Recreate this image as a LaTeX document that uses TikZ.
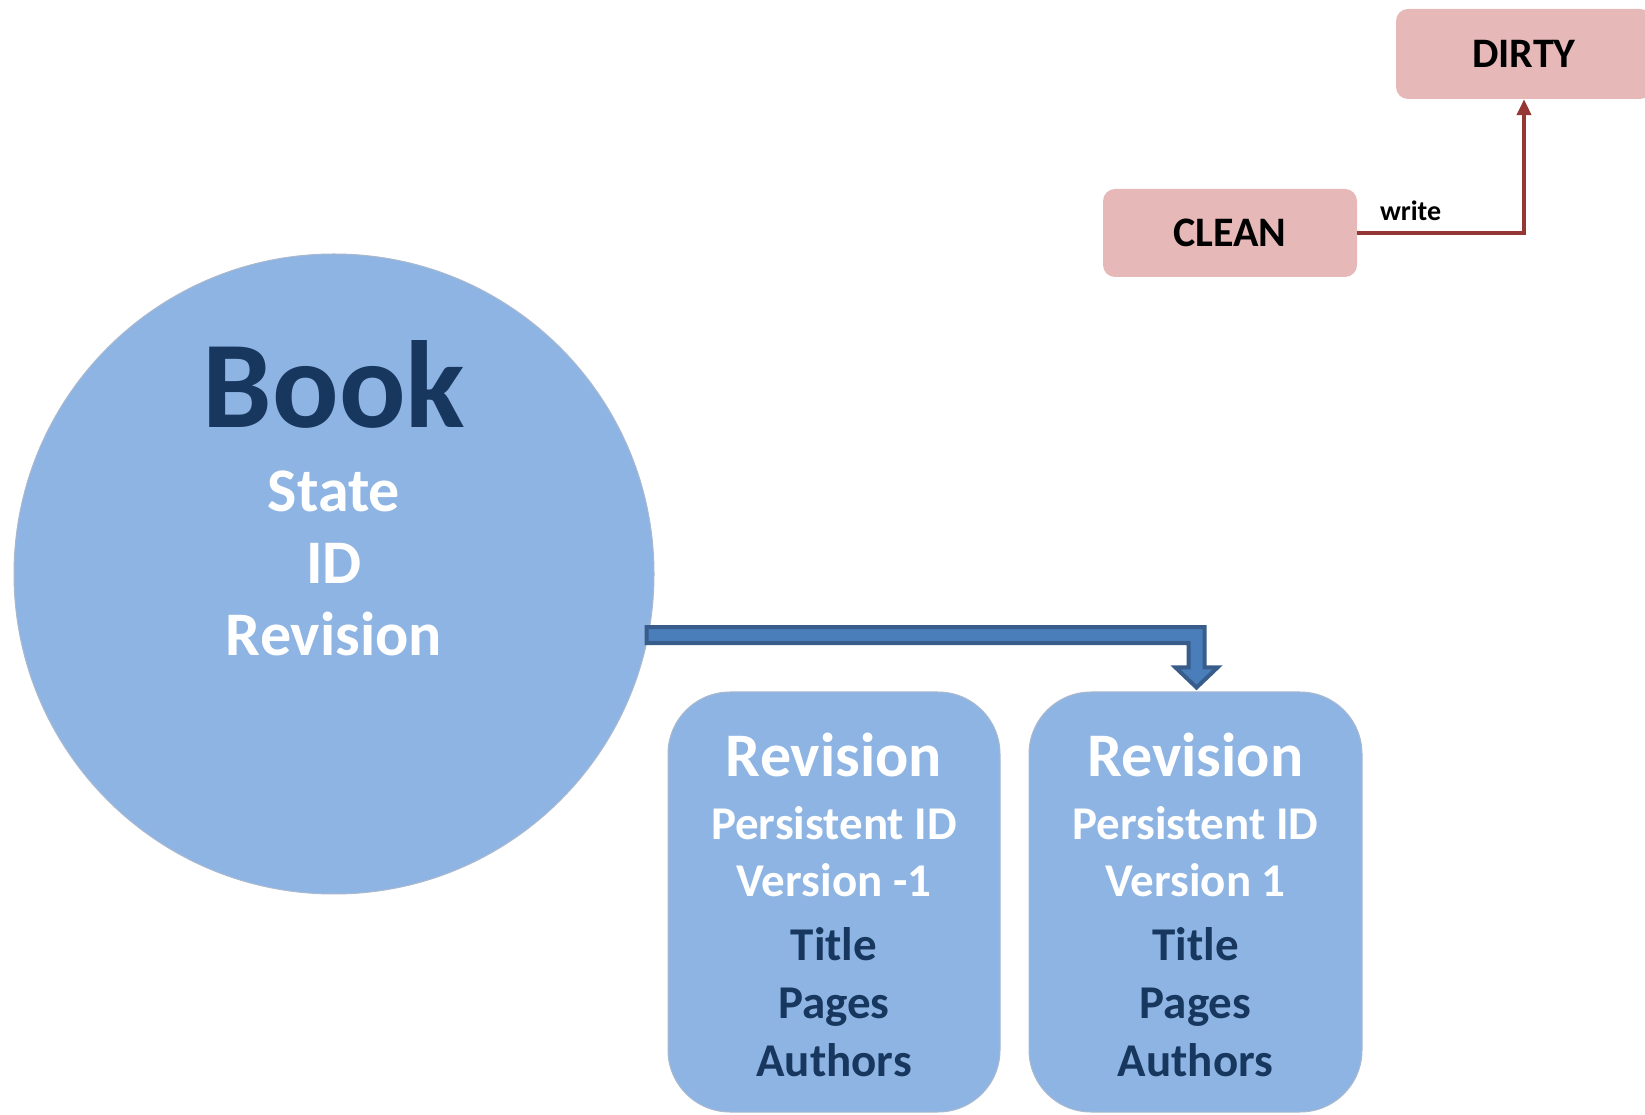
\documentclass[tikz,border=0pt]{standalone}
\usepackage{fontspec}
\setmainfont{Carlito}
\usepackage{xcolor}
\usepackage{tikz}
\usetikzlibrary{positioning}
\usetikzlibrary{arrows.meta}
\usetikzlibrary{calc}

\definecolor{boxblue}{HTML}{8EB4E3}
\definecolor{navy}{HTML}{17375E}
\definecolor{pinkfill}{HTML}{E6B9B8}
\definecolor{darkred}{HTML}{953735}
\definecolor{bandfill}{HTML}{4A7EBB}
\definecolor{bandline}{HTML}{385D8A}
\definecolor{rimgray}{HTML}{A9B9CF}

\begin{document}
\begin{tikzpicture}[x=1pt,y=1pt,
  statebox/.style={rectangle,rounded corners=12pt,fill=pinkfill,minimum width=254pt,minimum height=88pt,font=\fontsize{42}{50}\selectfont\bfseries},
  revbox/.style={rectangle,rounded corners=62pt,fill=boxblue,draw=rimgray,line width=1pt,minimum width=332pt,minimum height=420pt,align=center,font=\fontsize{47}{57}\selectfont\bfseries},
  bookcircle/.style={circle,fill=boxblue,draw=rimgray,line width=1pt,minimum size=640pt,inner sep=0pt},
  fatarrow/.style={fill=bandfill,draw=bandline,line width=4pt,line join=miter},
  statearrow/.style={-{Triangle[width=14pt,length=16pt]},draw=darkred,line width=4pt}]
\useasboundingbox (0,0) rectangle (1645,1114);

% states
\node[statebox] (clean) at (1230,881) {CLEAN};
\node[statebox,minimum width=256pt,minimum height=90pt] (dirty) at (1524,1060) {DIRTY};
\draw[statearrow] (clean) -| node[pos=0.16,above=7pt,font=\fontsize{28}{32}\selectfont\bfseries] {write} (dirty);

% book
\node[bookcircle] (book) at (334,540) {};
\node[align=center,text=white,font=\fontsize{62}{72}\selectfont\bfseries] (booktext) at ([yshift=76pt]book.center)
  {{\fontsize{124}{124}\selectfont\color{navy}Book}\\[12pt] State\\ ID\\ Revision};

% revisions
\node[revbox] (rev1) at (834,212) {\rule{0pt}{50pt}{\fontsize{62}{60}\selectfont\color{white}Revision}\\[6pt]
  \color{white}Persistent ID\\ \color{white}Version -1\\[7pt] \color{navy}Title\\[1pt] \color{navy}Pages\\[1pt] \color{navy}Authors};
\node[revbox,right=28pt of rev1,minimum width=333pt] (rev2) {\rule{0pt}{50pt}{\fontsize{62}{60}\selectfont\color{white}Revision}\\[6pt]
  \color{white}Persistent ID\\ \color{white}Version 1\\[7pt] \color{navy}Title\\[1pt] \color{navy}Pages\\[1pt] \color{navy}Authors};

% book to revision
\draw[fatarrow] let \p1=(book.-11), \p2=(rev2.north) in
  (\x1-2pt,\y1+8pt) -- (\x2+9pt,\y1+8pt) -- (\x2+9pt,\y2+24pt) -- (\x2+22pt,\y2+24pt)
  -- (\x2+1pt,\y2+4pt) -- (\x2-20pt,\y2+24pt) -- (\x2-7pt,\y2+24pt) -- (\x2-7pt,\y1-8pt)
  -- (\x1-2pt,\y1-8pt) -- cycle;
\end{tikzpicture}
\end{document}
